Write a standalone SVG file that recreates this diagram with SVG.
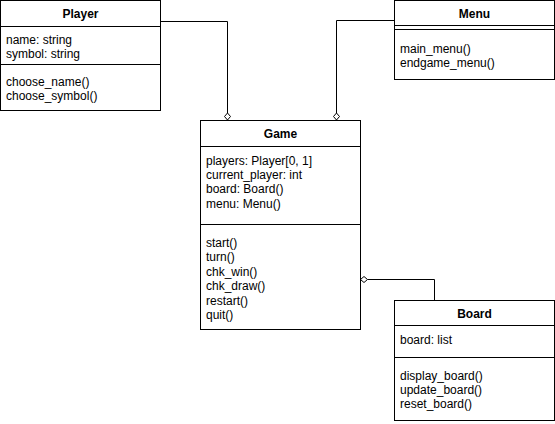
<svg xmlns="http://www.w3.org/2000/svg" width="555" height="424" viewBox="0 0 555 424">
<style>
.box{fill:#fff;stroke:#000;stroke-width:1}
.sep{stroke:#000;stroke-width:1;fill:none}
.t{font-family:"Liberation Sans",Arial,sans-serif;font-size:12px;fill:#000}
.h{font-family:"Liberation Sans",Arial,sans-serif;font-size:12px;font-weight:bold;fill:#000;text-anchor:middle}
.edge{stroke:#000;stroke-width:1;fill:none}
.dia{fill:#fff;stroke:#000;stroke-width:1}
</style>
<rect width="555" height="424" fill="#fff"/>
<g id="connectors">
<path class="edge" d="M160.5 21.5 H227.5 V113"/>
<path class="dia" d="M227.5 113 L230.5 116.5 L227.5 120 L224.5 116.5 Z"/>
<path class="edge" d="M394.5 20.5 H336.5 V113"/>
<path class="dia" d="M336.5 113 L339.5 116.5 L336.5 120 L333.5 116.5 Z"/>
<path class="edge" d="M434.5 300.5 V279.5 H367.5"/>
<path class="dia" d="M360.5 279.5 L364 276.5 L367.5 279.5 L364 282.5 Z"/>
</g>
<g id="player">
<rect class="box" x="0.5" y="0.5" width="160" height="110"/>
<path class="sep" d="M0.5 26.5 H160.5 M0.5 64.5 H160.5"/>
<text class="h" x="80.5" y="18">Player</text>
<text class="t" x="6" y="44">name: string</text>
<text class="t" x="6" y="58.4">symbol: string</text>
<text class="t" x="6" y="85.5">choose_name()</text>
<text class="t" x="6" y="99.9">choose_symbol()</text>
</g>
<g id="menu">
<rect class="box" x="394.5" y="0.5" width="160" height="79"/>
<path class="sep" d="M394.5 25.5 H554.5 M394.5 29.5 H554.5"/>
<text class="h" x="474.5" y="18">Menu</text>
<text class="t" x="400" y="52.5">main_menu()</text>
<text class="t" x="400" y="66.9">endgame_menu()</text>
</g>
<g id="game">
<rect class="box" x="200.5" y="120.5" width="160" height="209"/>
<path class="sep" d="M200.5 146.5 H360.5 M200.5 224.5 H360.5"/>
<text class="h" x="280.5" y="137.5">Game</text>
<text class="t" x="206" y="164.5">players: Player[0, 1]</text>
<text class="t" x="206" y="178.9">current_player: int</text>
<text class="t" x="206" y="193.3">board: Board()</text>
<text class="t" x="206" y="207.7">menu: Menu()</text>
<text class="t" x="206" y="247">start()</text>
<text class="t" x="206" y="261.4">turn()</text>
<text class="t" x="206" y="275.8">chk_win()</text>
<text class="t" x="206" y="290.2">chk_draw()</text>
<text class="t" x="206" y="304.6">restart()</text>
<text class="t" x="206" y="319">quit()</text>
</g>
<g id="board">
<rect class="box" x="394.5" y="300.5" width="160" height="120"/>
<path class="sep" d="M394.5 325.5 H554.5 M394.5 357.5 H554.5"/>
<text class="h" x="474.5" y="317.5">Board</text>
<text class="t" x="400" y="344">board: list</text>
<text class="t" x="400" y="379.5">display_board()</text>
<text class="t" x="400" y="393.9">update_board()</text>
<text class="t" x="400" y="408.3">reset_board()</text>
</g>
</svg>
